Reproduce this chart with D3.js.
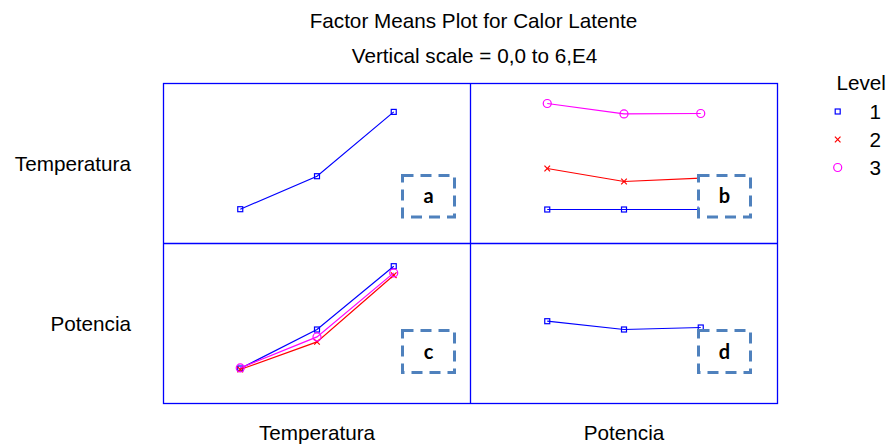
<!DOCTYPE html>
<html>
<head>
<meta charset="utf-8">
<script src="https://cdn.jsdelivr.net/npm/d3@7"></script>
<style>
  body { margin: 0; background: #fff; }
  svg { display: block; }
  text { font-family: "Liberation Sans", Arial, sans-serif; fill: #000; }
</style>
</head>
<body>
<svg id="chart" width="893" height="445"></svg>
<script>
// Factors and their levels
const factors = ["Temperatura", "Potencia"];
const levels = ["1", "2", "3"];
const panelTags = [["a", "b"], ["c", "d"]];

// Main-effect means (Calor Latente)
const temperaturaMeans = [12860, 25240, 49350];
const potenciaMeans = [30860, 27750, 28500];

// Interaction means: one series per Temperatura level, across Potencia levels
const temperaturaByPotencia = [
  [12750, 12750, 12750],
  [28125, 23250, 24490],
  [52500, 48600, 48750]
];
// Interaction means: one series per Potencia level, across Temperatura levels
const potenciaByTemperatura = [
  [13125, 27750, 51490],
  [12750, 23100, 48110],
  [13350, 24975, 48975]
];

const yDomain = [0, 60000];
const titleText = "Factor Means Plot for Calor Latente";
const subtitleText = "Vertical scale = 0,0 to 6,E4";
const legendTitle = "Level";

// ---- layout ----
const svg = d3.select("#chart");
const gridLeft = 163.5, gridTop = 83.5, pw = 307, ph = 160;
const fontSize = 20.7;
const frameColor = "#0000ff";

const levelStyles = [
  { color: "#0000ff", shape: "square" },
  { color: "#ff0000", shape: "cross" },
  { color: "#ff00ff", shape: "circle" }
];

// tag box placement inside each panel
const tagBoxes = [
  [{ x: 239, y: 92, w: 52, h: 41.5 }, { x: 228, y: 92, w: 52, h: 41.5 }],
  [{ x: 239, y: 87, w: 52, h: 42 }, { x: 228, y: 87, w: 52, h: 42 }]
];

const x = d3.scalePoint().domain(levels).range([0, pw]).padding(1);
const y = d3.scaleLinear().domain(yDomain).range([ph, 0]);

function drawMarker(g, shape, color, cx, cy) {
  if (shape === "square") {
    g.append("rect").attr("x", cx - 2.5).attr("y", cy - 2.5)
      .attr("width", 5).attr("height", 5)
      .attr("fill", "none").attr("stroke", color).attr("stroke-width", 1.2);
  } else if (shape === "cross") {
    const s = 2.8;
    g.append("path")
      .attr("d", `M${cx - s},${cy - s}L${cx + s},${cy + s}M${cx - s},${cy + s}L${cx + s},${cy - s}`)
      .attr("stroke", color).attr("stroke-width", 1.2).attr("fill", "none");
  } else {
    g.append("circle").attr("cx", cx).attr("cy", cy).attr("r", 4)
      .attr("fill", "none").attr("stroke", color).attr("stroke-width", 1.2);
  }
}

function seriesFor(r, c) {
  if (r === c) return [r === 0 ? temperaturaMeans : potenciaMeans];
  if (r === 0 && c === 1) return temperaturaByPotencia;
  return potenciaByTemperatura;
}

const line = d3.line().x((d, i) => x(levels[i])).y(d => y(d));

factors.forEach((rowF, r) => {
  factors.forEach((colF, c) => {
    const g = svg.append("g")
      .attr("transform", `translate(${gridLeft + c * pw},${gridTop + r * ph})`);
    const series = seriesFor(r, c);
    series.forEach((vals, si) => {
      const st = levelStyles[si];
      g.append("path").datum(vals)
        .attr("d", line)
        .attr("fill", "none")
        .attr("stroke", st.color)
        .attr("stroke-width", 1.2);
      vals.forEach((v, i) => drawMarker(g, st.shape, st.color, x(levels[i]), y(v)));
    });
    // panel tag in dashed box
    const b = tagBoxes[r][c];
    g.append("rect")
      .attr("x", b.x).attr("y", b.y).attr("width", b.w).attr("height", b.h)
      .attr("fill", "#fff")
      .attr("stroke", "#4f81bd")
      .attr("stroke-width", 3)
      .attr("stroke-dasharray", "11,7");
    g.append("text")
      .attr("x", b.x + b.w / 2)
      .attr("y", b.y + b.h / 2 + 7)
      .attr("text-anchor", "middle")
      .style("font-family", "Lato, 'Open Sans', sans-serif")
      .style("font-weight", 700)
      .style("font-size", "20px")
      .text(panelTags[r][c]);
  });
});

// frame and dividers
const frame = svg.append("g")
  .attr("fill", "none").attr("stroke", frameColor).attr("stroke-width", 1.3);
frame.append("rect")
  .attr("x", gridLeft).attr("y", gridTop)
  .attr("width", pw * 2).attr("height", ph * 2);
frame.append("line")
  .attr("x1", gridLeft + pw).attr("x2", gridLeft + pw)
  .attr("y1", gridTop).attr("y2", gridTop + ph * 2);
frame.append("line")
  .attr("x1", gridLeft).attr("x2", gridLeft + pw * 2)
  .attr("y1", gridTop + ph).attr("y2", gridTop + ph);

// row labels
factors.forEach((f, i) => {
  svg.append("text")
    .attr("x", 131)
    .attr("y", gridTop + ph * i + ph / 2 + 7.3)
    .attr("text-anchor", "end")
    .style("font-size", fontSize + "px")
    .text(f);
});
// column labels
factors.forEach((f, i) => {
  svg.append("text")
    .attr("x", gridLeft + pw * i + pw / 2)
    .attr("y", 439.5)
    .attr("text-anchor", "middle")
    .style("font-size", fontSize + "px")
    .text(f);
});

// titles
svg.append("text").attr("x", 473.5).attr("y", 28.3)
  .attr("text-anchor", "middle").style("font-size", fontSize + "px").text(titleText);
svg.append("text").attr("x", 474.5).attr("y", 62.7)
  .attr("text-anchor", "middle").style("font-size", fontSize + "px").text(subtitleText);

// legend
const legend = svg.append("g");
legend.append("text").attr("x", 836.5).attr("y", 90)
  .style("font-size", fontSize + "px").text(legendTitle);
levels.forEach((lv, i) => {
  const by = 118.5 + i * 28;
  drawMarker(legend, levelStyles[i].shape, levelStyles[i].color, 837.7, by - 7);
  legend.append("text").attr("x", 869.5).attr("y", by)
    .style("font-size", fontSize + "px").text(lv);
});
</script>
</body>
</html>
